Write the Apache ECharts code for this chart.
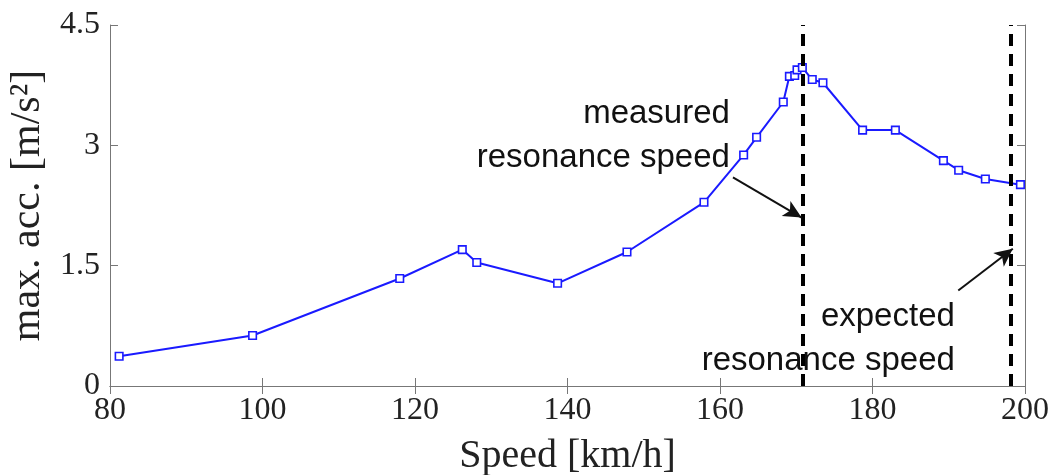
<!DOCTYPE html>
<html><head><meta charset="utf-8">
<script src="https://cdn.jsdelivr.net/npm/echarts@6/dist/echarts.min.js"></script>
<style>html,body{margin:0;padding:0;background:#fff}#c{width:1055px;height:475px}</style>
</head><body><div id="c"></div>
<script>
const speeds = [81.2, 98.7, 118.0, 126.2, 128.1, 138.7, 147.8, 157.9, 163.1, 164.8, 168.3, 169.1, 169.8, 170.1, 170.8, 172.1, 173.5, 178.7, 183.0, 189.3, 191.3, 194.8, 199.4];
const maxAcc = [0.37, 0.63, 1.34, 1.70, 1.54, 1.28, 1.67, 2.29, 2.88, 3.10, 3.54, 3.86, 3.87, 3.94, 3.97, 3.82, 3.78, 3.19, 3.19, 2.81, 2.69, 2.58, 2.51];
const resonanceSpeeds = [170.9, 198.1];
const xTicks = {min: 80, max: 200, interval: 20};
const yTicks = {min: 0, max: 4.5, interval: 1.5};
const annotations = [
  {text: 'measured\nresonance speed', at: [161.3, 3.12], arrowFrom: [161.7, 2.60], arrowTo: [170.7, 2.10]},
  {text: 'expected\nresonance speed', at: [190.8, 0.59], arrowFrom: [191.25, 1.19], arrowTo: [198.4, 1.71]}
];

const serif = 'Liberation Serif';
const axisLine = {show: true, lineStyle: {color: '#777', width: 1}};
const tick = {show: true, inside: true, length: 8, lineStyle: {color: '#777', width: 1}};
const chart = echarts.init(document.getElementById('c'));
const option = {
  animation: false,
  backgroundColor: '#fff',
  grid: {left: 110, right: 30, top: 25, bottom: 89, outerBoundsMode: 'none', containLabel: false},
  xAxis: [
    {type: 'value', min: xTicks.min, max: xTicks.max, interval: xTicks.interval, position: 'bottom',
     axisLine, axisTick: tick, splitLine: {show: false},
     axisLabel: {fontFamily: serif, fontSize: 32, color: '#222', margin: 9},
     name: 'Speed [km/h]', nameLocation: 'middle', nameGap: 50,
     nameTextStyle: {fontFamily: serif, fontSize: 40, color: '#222'}},
    {type: 'value', min: xTicks.min, max: xTicks.max, interval: xTicks.interval, position: 'top',
     axisLine, axisTick: tick, splitLine: {show: false}, axisLabel: {show: false}}
  ],
  yAxis: [
    {type: 'value', min: yTicks.min, max: yTicks.max, interval: yTicks.interval, position: 'left',
     axisLine, axisTick: tick, splitLine: {show: false},
     axisLabel: {fontFamily: serif, fontSize: 32, color: '#222', margin: 10},
     name: 'max. acc. [m/s²]', nameLocation: 'middle', nameGap: 50, nameRotate: 90,
     nameTextStyle: {fontFamily: serif, fontSize: 42, color: '#222'}},
    {type: 'value', min: yTicks.min, max: yTicks.max, interval: yTicks.interval, position: 'right',
     axisLine, axisTick: tick, splitLine: {show: false}, axisLabel: {show: false}}
  ],
  series: [{
    type: 'line',
    data: speeds.map((s, i) => [s, maxAcc[i]]),
    symbol: 'rect', symbolSize: 7.5,
    lineStyle: {color: '#1a1aff', width: 2},
    itemStyle: {color: '#fff', borderColor: '#1a1aff', borderWidth: 1.6},
    markLine: {
      silent: true, animation: false,
      data: [
        ...resonanceSpeeds.map(v => ({xAxis: v, symbol: 'none',
          lineStyle: {color: '#000', width: 4, type: [12, 8]}, label: {show: false}})),
        ...annotations.map(a => [
          {coord: a.arrowFrom, symbol: 'none'},
          {coord: a.arrowTo, symbol: 'arrow', symbolSize: [13, 18],
           lineStyle: {color: '#111', width: 2, type: 'solid'}, label: {show: false}}
        ])
      ],
      symbol: ['none', 'none'],
      lineStyle: {color: '#111', width: 2, type: 'solid'},
      label: {show: false}
    }
  }]
};
chart.setOption(option);
chart.setOption({
  graphic: annotations.map(a => {
    const p = chart.convertToPixel({xAxisIndex: 0, yAxisIndex: 0}, a.at);
    return {type: 'text', x: p[0], y: p[1], silent: true,
      style: {text: a.text, fill: '#111', font: '33px "Liberation Sans", Arial, sans-serif',
        align: 'right', verticalAlign: 'middle', lineHeight: 44}};
  })
});
</script></body></html>
